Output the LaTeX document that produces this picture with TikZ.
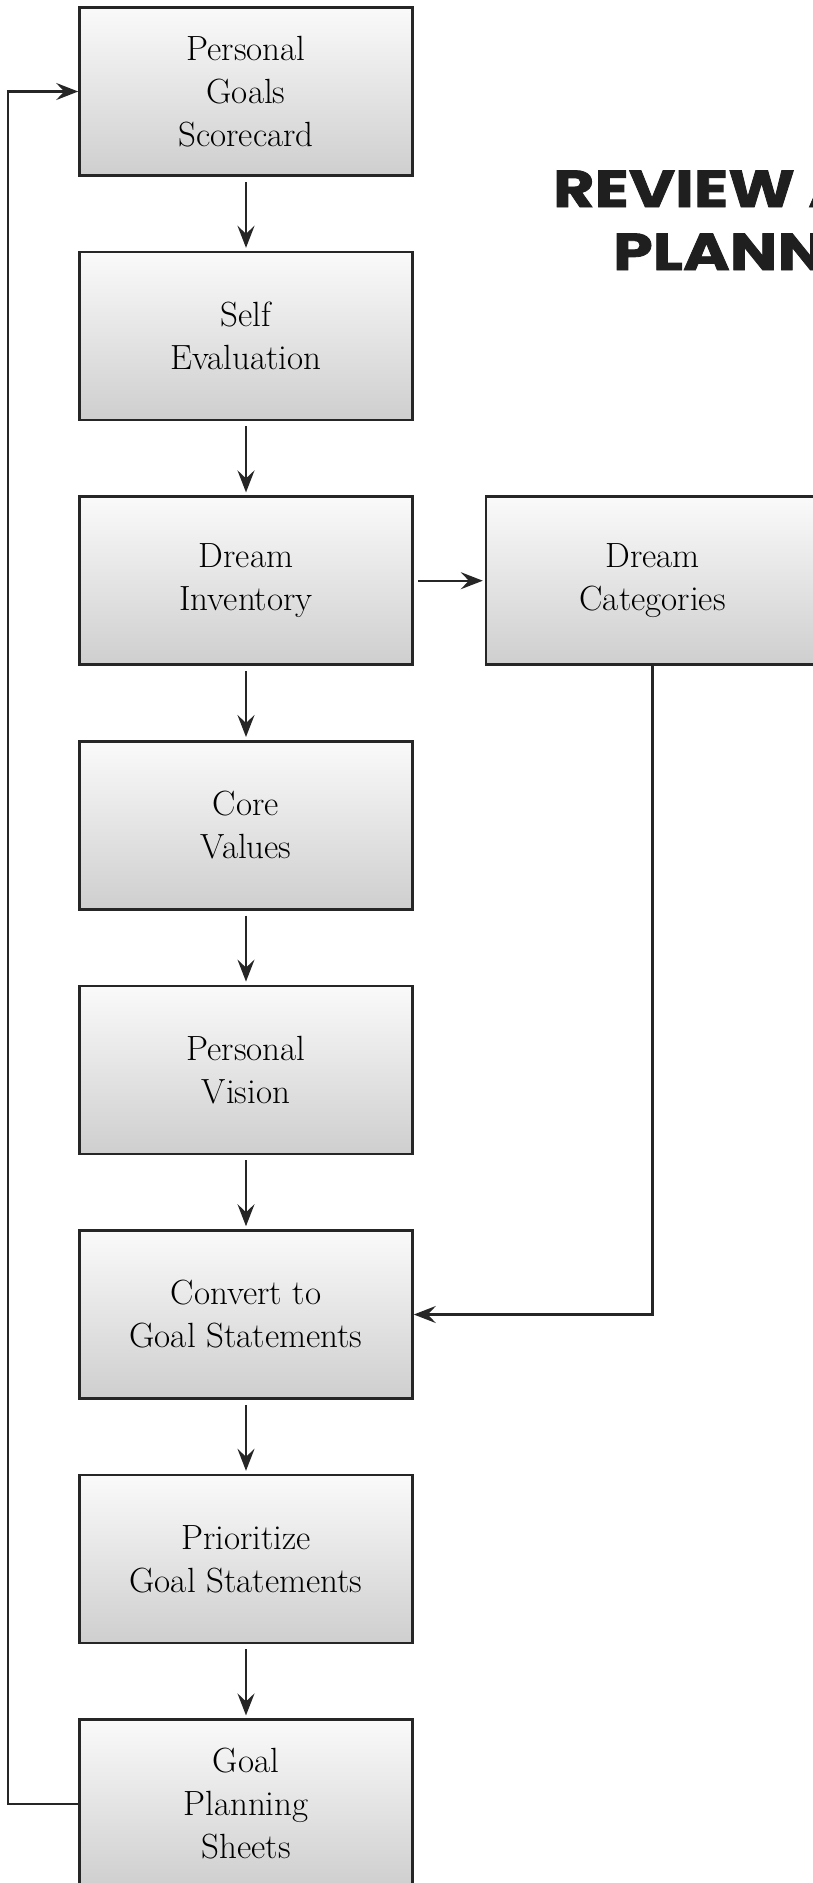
\documentclass[tikz,border=0pt]{standalone}
\usepackage{fontspec}
\newfontfamily\titlefont[FakeStretch=1.22,FakeBold=1.6]{Poppins}
\usetikzlibrary{arrows.meta,positioning}

\begin{document}
\begin{tikzpicture}[
  node distance=74pt and 71pt,
  box/.style={draw=black!85,line width=2.6pt,align=center,minimum width=333pt,minimum height=168pt,
    top color=black!2,bottom color=black!19,font=\fontsize{35}{43}\selectfont},
  heading/.style={anchor=base west,inner sep=0pt,text=black!88,font=\titlefont\bfseries\fontsize{52}{63}\selectfont},
  link/.style={line width=2.3pt,draw=black!85},
  >={Stealth[length=22pt,width=17pt,inset=8pt]}]
\useasboundingbox (0,0) rectangle (813pt,-1883pt);
\clip (0,0) rectangle (813pt,-1883pt);
\node[box] (pgs) at (246pt,-91.5pt) {Personal\\Goals\\Scorecard};
\node[box,below=of pgs] (se) {Self\\Evaluation};
\node[box,below=of se] (di) {Dream\\Inventory};
\node[box,right=of di] (dc) {Dream\\Categories};
\node[box,below=of di] (cvl) {Core\\Values};
\node[box,below=of cvl] (pv) {Personal\\Vision};
\node[box,below=of pv] (cgs) {Convert to\\Goal Statements};
\node[box,below=of cgs] (prio) {Prioritize\\Goal Statements};
\node[box,below=of prio] (gps) {Goal\\Planning\\Sheets};
% title, cut by the right edge
\node[heading] (title) at (553pt,-207pt) {REVIEW AND};
\node[heading] (title2) at (613pt,-270pt) {PLANNING};
% main chain
\foreach \a/\b in {pgs/se,se/di,di/cvl,cvl/pv,pv/cgs,cgs/prio,prio/gps}
  \draw[link,->,shorten <=5pt,shorten >=3pt] (\a) -- (\b);
\draw[link,->,shorten <=4pt,shorten >=2pt] (di) -- (dc);
\draw[link,->] (dc.south) |- (cgs.east);
\draw[link,->] (gps.west) -- ++(-70pt,0) |- (pgs.west);
\end{tikzpicture}
\end{document}
